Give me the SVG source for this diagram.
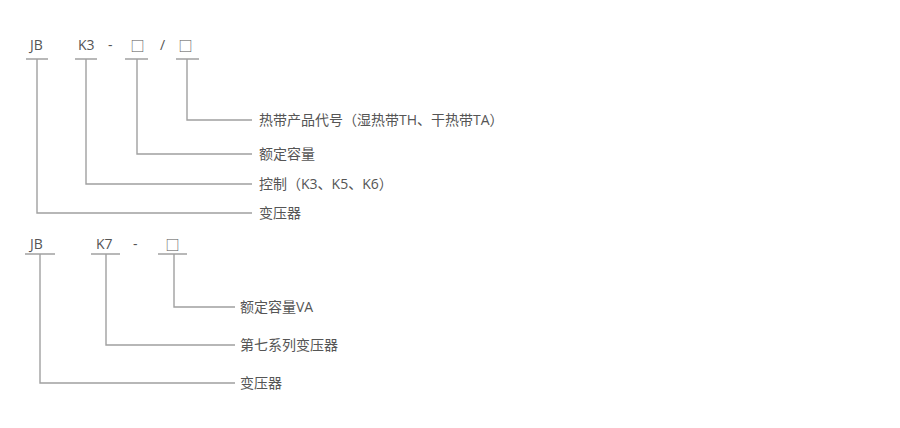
<svg xmlns="http://www.w3.org/2000/svg" width="900" height="428" viewBox="0 0 900 428">
<style>
  text { font-family: "Open Sans", "Noto Sans CJK SC", sans-serif; font-size: 14px; fill: #555; }
  .bar { stroke: #a0a0a0; stroke-width: 1.5; fill: none; }
  .conn { stroke: #a0a0a0; stroke-width: 1.4; fill: none; }
</style>
<rect width="900" height="428" fill="#fff"/>

<g id="code1">
  <g id="c1-jb"><text x="30" y="50">JB</text><line class="bar" x1="26" y1="59" x2="48" y2="59"/></g>
  <g id="c1-k3"><text x="78" y="50">K3</text><line class="bar" x1="75" y1="59" x2="97" y2="59"/></g>
  <g id="c1-dash"><text x="108" y="50">-</text></g>
  <g id="c1-box1"><text x="137.5" y="51" text-anchor="middle">□</text><line class="bar" x1="125" y1="59" x2="148" y2="59"/></g>
  <g id="c1-slash"><text x="160" y="50">/</text></g>
  <g id="c1-box2"><text x="185.5" y="51" text-anchor="middle">□</text><line class="bar" x1="176" y1="59" x2="199" y2="59"/></g>
</g>

<g id="labels1">
  <g id="l1-th"><text x="259" y="125">热带产品代号（湿热带TH、干热带TA）</text></g>
  <g id="l1-cap"><text x="259" y="159">额定容量</text></g>
  <g id="l1-ctrl"><text x="259" y="189">控制（K3、K5、K6）</text></g>
  <g id="l1-tr"><text x="259" y="218">变压器</text></g>
</g>

<g id="code2">
  <g id="c2-jb"><text x="30" y="249">JB</text><line class="bar" x1="25" y1="254" x2="55" y2="254"/></g>
  <g id="c2-k7"><text x="96" y="249">K7</text><line class="bar" x1="91" y1="254" x2="120" y2="254"/></g>
  <g id="c2-dash"><text x="133" y="249">-</text></g>
  <g id="c2-box"><text x="172.5" y="250" text-anchor="middle">□</text><line class="bar" x1="158" y1="254" x2="187" y2="254"/></g>
</g>

<g id="labels2">
  <g id="l2-cap"><text x="240" y="312">额定容量VA</text></g>
  <g id="l2-series"><text x="240" y="350">第七系列变压器</text></g>
  <g id="l2-tr"><text x="240" y="388">变压器</text></g>
</g>

<g id="connectors">
  <polyline class="conn" points="187,59 187,120 252,120"/>
  <polyline class="conn" points="137,59 137,154 252,154"/>
  <polyline class="conn" points="86,59 86,184 252,184"/>
  <polyline class="conn" points="37,59 37,213 252,213"/>
  <polyline class="conn" points="174,254 174,307 235,307"/>
  <polyline class="conn" points="106,254 106,345 235,345"/>
  <polyline class="conn" points="40,254 40,383 235,383"/>
</g>
</svg>
